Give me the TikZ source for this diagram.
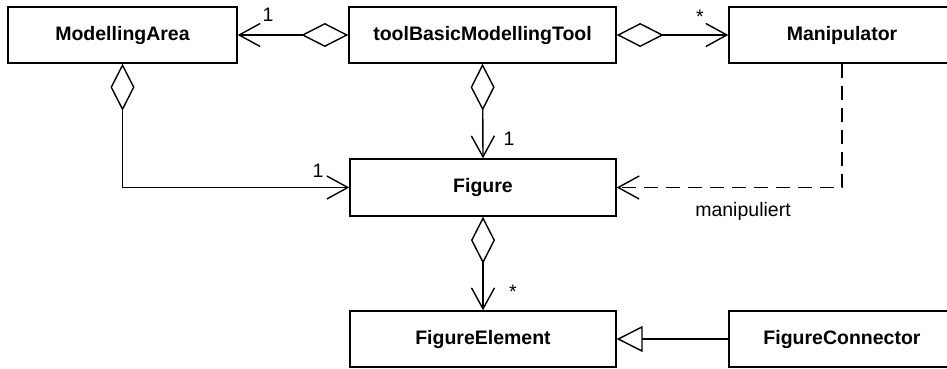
\documentclass[tikz,border=0pt]{standalone}
\usepackage{fontspec}
\setmainfont{Liberation Sans}
\usetikzlibrary{arrows.meta}
\begin{document}
\begin{tikzpicture}[x=1pt,y=-1pt,
  every node/.style={font=\fontsize{19.5}{23}\selectfont},
  classbox/.style={draw, line width=1.4pt, minimum height=56pt, inner sep=0pt,
    font=\fontsize{19.5}{23}\selectfont\bfseries},
  conn/.style={line width=1.4pt, line join=miter},
  nav/.style={-{Straight Barb[length=21pt,width=23pt]}},
  agg/.style={{Diamond[open,length=47pt,width=24pt]}-{Straight Barb[length=21pt,width=23pt]}},
  gen/.style={-{Triangle[open,length=26pt,width=26pt]}},
  dep/.style={dash pattern=on 14pt off 8pt},
  mult/.style={inner sep=0pt}]
  \clip (0,0) rectangle (947,368);
  \fill[white] (0,0) rectangle (947,368);

  % classes
  \node[classbox, minimum width=229pt] (ma)    at (122.5,35)  {ModellingArea};
  \node[classbox, minimum width=267pt] (tool)  at (482.5,35)  {toolBasicModellingTool};
  \node[classbox, minimum width=226pt] (manip) at (842,35)    {Manipulator};
  \node[classbox, minimum width=266pt, minimum height=57pt] (fig) at (483,187.5) {Figure};
  \node[classbox, minimum width=266pt] (fe)    at (483,339)   {FigureElement};
  \node[classbox, minimum width=226pt] (fc)    at (842,339)   {FigureConnector};

  % aggregations
  \draw[conn, agg] (tool.west) -- (ma.east);
  \draw[conn, agg] (tool.east) -- (manip.west);
  \draw[conn, agg] (tool.south) -- (fig.north);
  \draw[conn, agg] (ma.south) |- (fig.west);
  \draw[conn, agg] (fig.south) -- (fe.north);

  % dependency
  \draw[conn, dep, nav] (manip.south) |- (fig.east);

  % generalisation
  \draw[conn, gen] (fc.west) -- (fe.east);

  % multiplicities and labels
  \node[mult] (m1) at (268,15)  {1};
  \node[mult] (m2) at (700,17)  {*};
  \node[mult] (m3) at (509,139) {1};
  \node[mult] (m4) at (318,171) {1};
  \node[mult] (m5) at (513,292) {*};
  \node[mult] (dl) at (743,211) {manipuliert};
\end{tikzpicture}
\end{document}
